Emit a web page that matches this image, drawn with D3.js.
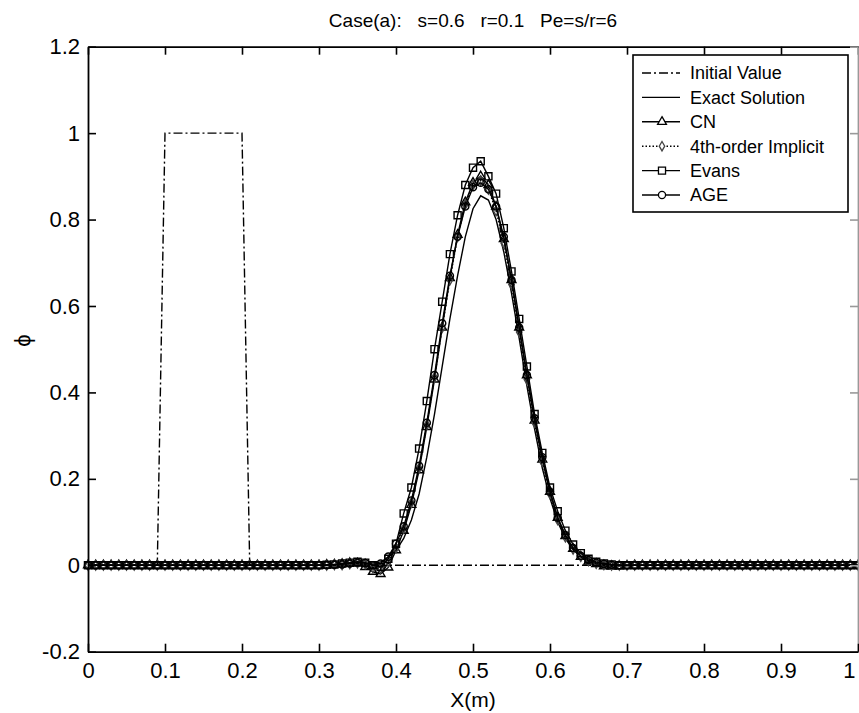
<!DOCTYPE html>
<html>
<head>
<meta charset="utf-8">
<script src="https://cdn.jsdelivr.net/npm/d3@7"></script>
<style>
    body { margin: 0; background: #fff; }
    text { font-family: Arial, "Liberation Sans", sans-serif; fill: #000; }
</style>
</head>
<body>
<div id="chart"></div>
<script>
// grid used by every scheme, dx = 0.01
var gridX = d3.range(101).map(function (i) { return i / 100; });

var xTicks = [0, 0.1, 0.2, 0.3, 0.4, 0.5, 0.6, 0.7, 0.8, 0.9, 1];
var xTickLabels = ['0', '0.1', '0.2', '0.3', '0.4', '0.5', '0.6', '0.7', '0.8', '0.9', '1'];
var yTicks = [-0.2, 0, 0.2, 0.4, 0.6, 0.8, 1, 1.2];
var yTickLabels = ['-0.2', '0', '0.2', '0.4', '0.6', '0.8', '1', '1.2'];

var seriesNames = ['Initial Value', 'Exact Solution', 'CN', '4th-order Implicit', 'Evans', 'AGE'];

var initialValue = [
    0, 0, 0, 0, 0, 0, 0, 0, 0, 0,
    1, 1, 1, 1, 1, 1, 1, 1, 1, 1,
    1, 0, 0, 0, 0, 0, 0, 0, 0, 0,
    0, 0, 0, 0, 0, 0, 0, 0, 0, 0,
    0, 0, 0, 0, 0, 0, 0, 0, 0, 0,
    0, 0, 0, 0, 0, 0, 0, 0, 0, 0,
    0, 0, 0, 0, 0, 0, 0, 0, 0, 0,
    0, 0, 0, 0, 0, 0, 0, 0, 0, 0,
    0, 0, 0, 0, 0, 0, 0, 0, 0, 0,
    0, 0, 0, 0, 0, 0, 0, 0, 0, 0,
    0
];
var exactSolution = [
    0, 0, 0, 0, 0, 0, 0, 0, 0, 0,
    0, 0, 0, 0, 0, 0, 0, 0, 0, 0,
    0, 0, 0, 0, 0, 0, 0, 0, 0, 0,
    0, 0, 0, 0, 0, 0, 0.002, 0.004, 0.008, 0.018,
    0.034, 0.062, 0.105, 0.165, 0.25, 0.35, 0.46, 0.57, 0.67, 0.76,
    0.825, 0.855, 0.845, 0.80, 0.725, 0.63, 0.525, 0.415, 0.315, 0.225,
    0.155, 0.10, 0.062, 0.036, 0.02, 0.01, 0.005, 0.002, 0, 0,
    0, 0, 0, 0, 0, 0, 0, 0, 0, 0,
    0, 0, 0, 0, 0, 0, 0, 0, 0, 0,
    0, 0, 0, 0, 0, 0, 0, 0, 0, 0,
    0
];
var cnValues = [
    0, 0, 0, 0, 0, 0, 0, 0, 0, 0,
    0, 0, 0, 0, 0, 0, 0, 0, 0, 0,
    0, 0, 0, 0, 0, 0, 0, 0, 0, 0,
    0, 0.001, 0.002, 0.003, 0.005, 0.004, -0.004, -0.015, -0.02, -0.005,
    0.035, 0.08, 0.14, 0.22, 0.32, 0.43, 0.55, 0.665, 0.765, 0.84,
    0.885, 0.90, 0.88, 0.83, 0.755, 0.66, 0.55, 0.44, 0.335, 0.245,
    0.17, 0.11, 0.068, 0.038, 0.02, 0.009, 0.003, -0.002, -0.003, -0.002,
    -0.001, 0, 0, 0, 0, 0, 0, 0, 0, 0,
    0, 0, 0, 0, 0, 0, 0, 0, 0, 0,
    0, 0, 0, 0, 0, 0, 0, 0, 0, 0,
    0
];
var fourthOrderValues = [
    0, 0, 0, 0, 0, 0, 0, 0, 0, 0,
    0, 0, 0, 0, 0, 0, 0, 0, 0, 0,
    0, 0, 0, 0, 0, 0, 0, 0, 0, 0,
    0, 0, 0.001, 0.001, 0.003, 0.005, 0.003, -0.006, -0.008, 0.008,
    0.04, 0.085, 0.145, 0.225, 0.325, 0.435, 0.55, 0.66, 0.76, 0.835,
    0.88, 0.89, 0.87, 0.82, 0.745, 0.65, 0.54, 0.43, 0.33, 0.24,
    0.165, 0.105, 0.065, 0.037, 0.02, 0.01, 0.004, 0.001, 0, 0,
    0, 0, 0, 0, 0, 0, 0, 0, 0, 0,
    0, 0, 0, 0, 0, 0, 0, 0, 0, 0,
    0, 0, 0, 0, 0, 0, 0, 0, 0, 0,
    0
];
var evansValues = [
    0, 0, 0, 0, 0, 0, 0, 0, 0, 0,
    0, 0, 0, 0, 0, 0, 0, 0, 0, 0,
    0, 0, 0, 0, 0, 0, 0, 0, 0, 0,
    0, 0.001, 0.002, 0.004, 0.006, 0.008, 0.006, 0, -0.004, 0.015,
    0.05, 0.12, 0.18, 0.27, 0.38, 0.50, 0.61, 0.72, 0.81, 0.88,
    0.92, 0.935, 0.90, 0.86, 0.78, 0.68, 0.57, 0.46, 0.35, 0.26,
    0.18, 0.125, 0.08, 0.048, 0.028, 0.015, 0.008, 0.004, 0.002, 0,
    0, 0, 0, 0, 0, 0, 0, 0, 0, 0,
    0, 0, 0, 0, 0, 0, 0, 0, 0, 0,
    0, 0, 0, 0, 0, 0, 0, 0, 0, 0,
    0
];
var ageValues = [
    0, 0, 0, 0, 0, 0, 0, 0, 0, 0,
    0, 0, 0, 0, 0, 0, 0, 0, 0, 0,
    0, 0, 0, 0, 0, 0, 0, 0, 0, 0,
    0, 0, 0.001, 0.002, 0.004, 0.006, 0.005, 0, 0.004, 0.02,
    0.05, 0.09, 0.15, 0.23, 0.33, 0.44, 0.56, 0.67, 0.76, 0.83,
    0.875, 0.885, 0.87, 0.83, 0.76, 0.66, 0.55, 0.44, 0.34, 0.25,
    0.17, 0.11, 0.07, 0.04, 0.022, 0.012, 0.006, 0.003, 0.001, 0,
    0, 0, 0, 0, 0, 0, 0, 0, 0, 0,
    0, 0, 0, 0, 0, 0, 0, 0, 0, 0,
    0, 0, 0, 0, 0, 0, 0, 0, 0, 0,
    0
];

var width = 859, height = 713;
var plot = { left: 88, right: 858, top: 46.7, bottom: 651.7 };

var svg = d3.select('#chart').append('svg')
    .attr('width', width)
    .attr('height', height);

var x = d3.scaleLinear().domain([0, 1]).range([plot.left, plot.right]);
var y = d3.scaleLinear().domain([-0.2, 1.2]).range([plot.bottom, plot.top]);

var series = [
    { name: seriesNames[0], values: initialValue, dash: '9,3,2,3', symbol: null },
    { name: seriesNames[1], values: exactSolution, dash: null, symbol: null },
    { name: seriesNames[2], values: cnValues, dash: null, symbol: d3.symbolTriangle, size: 34, stroke: '#000' },
    { name: seriesNames[3], values: fourthOrderValues, dash: '1.5,2', symbol: d3.symbolDiamond, size: 26, stroke: '#444' },
    { name: seriesNames[4], values: evansValues, dash: null, symbol: d3.symbolSquare, size: 50, stroke: '#000' },
    { name: seriesNames[5], values: ageValues, dash: null, symbol: d3.symbolCircle, size: 40, stroke: '#000' }
];

var line = d3.line()
    .x(function (d, i) { return x(gridX[i]); })
    .y(function (d) { return y(d); });

var marks = svg.append('g');
series.forEach(function (s) {
    marks.append('path')
        .attr('d', line(s.values))
        .attr('fill', 'none')
        .attr('stroke', '#000')
        .attr('stroke-width', 1.4)
        .attr('stroke-dasharray', s.dash);
    if (s.symbol) {
        marks.append('g').selectAll('path')
            .data(s.values)
            .enter().append('path')
            .attr('transform', function (d, i) { return 'translate(' + x(gridX[i]) + ',' + y(d) + ')'; })
            .attr('d', d3.symbol().type(s.symbol).size(s.size))
            .attr('fill', 'none')
            .attr('stroke', s.stroke)
            .attr('stroke-width', 1.4);
    }
});

// axes: ticks point inward on all four sides
function styleAxis(g, color) {
    g.selectAll('.domain').attr('stroke', color).attr('stroke-width', 1.8);
    g.selectAll('.tick line').attr('stroke', color).attr('stroke-width', 1.6);
    g.selectAll('.tick text').attr('font-family', 'Arial, "Liberation Sans", sans-serif').attr('font-size', 22);
}

var xTop = svg.append('g')
    .attr('transform', 'translate(0,' + plot.top + ')')
    .call(d3.axisTop(x).tickValues(xTicks).tickFormat('')
        .tickSizeInner(-8).tickSizeOuter(0));
styleAxis(xTop, '#000');

var yRight = svg.append('g')
    .attr('transform', 'translate(' + plot.right + ',0)')
    .call(d3.axisRight(y).tickValues(yTicks).tickFormat('')
        .tickSizeInner(-8).tickSizeOuter(0));
styleAxis(yRight, '#999');

var xAxis = svg.append('g')
    .attr('transform', 'translate(0,' + plot.bottom + ')')
    .call(d3.axisBottom(x).tickValues(xTicks)
        .tickFormat(function (d, i) { return xTickLabels[i]; })
        .tickSizeInner(-8).tickSizeOuter(0).tickPadding(11));
styleAxis(xAxis, '#000');
// last label sits on the window edge, keep it inside
xAxis.selectAll('.tick text').filter(function (d) { return d === 1; })
    .attr('text-anchor', 'end').attr('dx', -3);

var yAxis = svg.append('g')
    .attr('transform', 'translate(' + plot.left + ',0)')
    .call(d3.axisLeft(y).tickValues(yTicks)
        .tickFormat(function (d, i) { return yTickLabels[i]; })
        .tickSizeInner(-8).tickSizeOuter(0).tickPadding(8));
styleAxis(yAxis, '#000');

svg.selectAll('.tick text').style('fill', '#000');

// title and labels
svg.append('text')
    .attr('x', (plot.left + plot.right) / 2)
    .attr('y', 27)
    .attr('text-anchor', 'middle')
    .attr('font-size', 19)
    .style('white-space', 'pre')
    .text('Case(a):   s=0.6   r=0.1   Pe=s/r=6');

svg.append('text')
    .attr('x', (plot.left + plot.right) / 2)
    .attr('y', 707)
    .attr('text-anchor', 'middle')
    .attr('font-size', 21)
    .text('X(m)');

svg.append('text')
    .attr('transform', 'translate(22,' + y(0.52) + ') rotate(-90)')
    .attr('text-anchor', 'middle')
    .attr('dy', '0.35em')
    .attr('font-family', '"DejaVu Sans", sans-serif')
    .attr('font-size', 22)
    .text('ϕ');

// legend
var legend = svg.append('g');
legend.append('rect')
    .attr('x', 633).attr('y', 55)
    .attr('width', 215).attr('height', 157)
    .attr('fill', '#fff')
    .attr('stroke', '#000')
    .attr('stroke-width', 1.6);

var rowY = d3.scaleLinear().domain([0, 5]).range([73, 195]);
series.forEach(function (s, i) {
    var ry = rowY(i);
    legend.append('line')
        .attr('x1', 642).attr('x2', 680)
        .attr('y1', ry).attr('y2', ry)
        .attr('stroke', '#000')
        .attr('stroke-width', 1.4)
        .attr('stroke-dasharray', s.dash);
    if (s.symbol) {
        legend.append('path')
            .attr('transform', 'translate(662,' + ry + ')')
            .attr('d', d3.symbol().type(s.symbol).size(s.size))
            .attr('fill', '#fff')
            .attr('stroke', s.stroke)
            .attr('stroke-width', 1.3);
    }
    legend.append('text')
        .attr('x', 690)
        .attr('y', ry)
        .attr('dy', '0.35em')
        .attr('font-size', 18)
        .text(s.name);
});
</script>
</body>
</html>
